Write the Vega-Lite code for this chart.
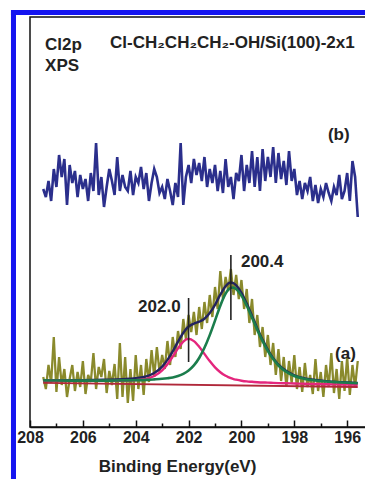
{
  "$schema": "https://vega.github.io/schema/vega-lite/v6.json",
  "width": 337,
  "height": 410,
  "autosize": {"type": "none"},
  "padding": {"left": 30, "top": 17, "right": 0, "bottom": 52},
  "background": "white",
  "config": {
    "font": "Liberation Sans",
    "view": {"stroke": "#111111", "strokeWidth": 1.5}
  },
  "datasets": {
    "frame": [
      {"x1": 208.72, "x2": 208.53, "y1": 417, "y2": -60},
      {"x1": 208.72, "x2": 194.0, "y1": 417, "y2": 412}
    ],
    "bg": [
      {"E": 207.5, "v": 44.05},
      {"E": 195.6, "v": 40.0}
    ],
    "spec": [
      {"E":207.5,"a":50,"b":238},{"E":207.4,"a":38,"b":230},{"E":207.3,"a":62,"b":246},{"E":207.2,"a":44,"b":226},{"E":207.1,"a":90,"b":258},
      {"E":207.0,"a":35,"b":240},{"E":206.9,"a":70,"b":272},{"E":206.8,"a":42,"b":250},{"E":206.7,"a":58,"b":268},{"E":206.6,"a":30,"b":222},
      {"E":206.5,"a":48,"b":262},{"E":206.4,"a":62,"b":244},{"E":206.3,"a":36,"b":256},{"E":206.2,"a":55,"b":230},{"E":206.1,"a":40,"b":252},
      {"E":206.0,"a":66,"b":238},{"E":205.9,"a":33,"b":248},{"E":205.8,"a":52,"b":226},{"E":205.7,"a":45,"b":254},{"E":205.6,"a":74,"b":236},
      {"E":205.5,"a":38,"b":284},{"E":205.4,"a":60,"b":232},{"E":205.3,"a":50,"b":250},{"E":205.2,"a":68,"b":220},{"E":205.1,"a":34,"b":240},
      {"E":205.0,"a":56,"b":258},{"E":204.9,"a":42,"b":246},{"E":204.8,"a":63,"b":232},{"E":204.7,"a":28,"b":270},{"E":204.6,"a":84,"b":236},
      {"E":204.5,"a":30,"b":252},{"E":204.4,"a":70,"b":240},{"E":204.3,"a":24,"b":236},{"E":204.2,"a":58,"b":256},{"E":204.1,"a":26,"b":232},
      {"E":204.0,"a":72,"b":250},{"E":203.9,"a":38,"b":244},{"E":203.8,"a":62,"b":260},{"E":203.7,"a":32,"b":238},{"E":203.6,"a":68,"b":254},
      {"E":203.5,"a":45,"b":226},{"E":203.4,"a":77,"b":244},{"E":203.3,"a":50,"b":258},{"E":203.2,"a":80,"b":250},{"E":203.1,"a":55,"b":234},
      {"E":203.0,"a":72,"b":240},{"E":202.9,"a":58,"b":228},{"E":202.8,"a":86,"b":248},{"E":202.7,"a":62,"b":236},{"E":202.6,"a":90,"b":222},
      {"E":202.5,"a":70,"b":244},{"E":202.4,"a":96,"b":230},{"E":202.3,"a":78,"b":284},{"E":202.2,"a":108,"b":222},{"E":202.1,"a":88,"b":250},
      {"E":202.0,"a":112,"b":262},{"E":201.9,"a":95,"b":244},{"E":201.8,"a":115,"b":268},{"E":201.7,"a":92,"b":252},{"E":201.6,"a":120,"b":264},
      {"E":201.5,"a":98,"b":246},{"E":201.4,"a":125,"b":270},{"E":201.3,"a":104,"b":240},{"E":201.2,"a":132,"b":258},{"E":201.1,"a":110,"b":244},
      {"E":201.0,"a":140,"b":262},{"E":200.9,"a":118,"b":236},{"E":200.8,"a":156,"b":256},{"E":200.7,"a":128,"b":234},{"E":200.6,"a":150,"b":268},
      {"E":200.5,"a":136,"b":240},{"E":200.4,"a":158,"b":250},{"E":200.3,"a":132,"b":228},{"E":200.2,"a":152,"b":254},{"E":200.1,"a":128,"b":246},
      {"E":200.0,"a":147,"b":272},{"E":199.9,"a":118,"b":236},{"E":199.8,"a":138,"b":262},{"E":199.7,"a":104,"b":244},{"E":199.6,"a":128,"b":276},
      {"E":199.5,"a":92,"b":240},{"E":199.4,"a":112,"b":270},{"E":199.3,"a":80,"b":236},{"E":199.2,"a":100,"b":278},{"E":199.1,"a":70,"b":246},
      {"E":199.0,"a":92,"b":270},{"E":198.9,"a":62,"b":250},{"E":198.8,"a":84,"b":280},{"E":198.7,"a":52,"b":244},{"E":198.6,"a":78,"b":274},
      {"E":198.5,"a":46,"b":248},{"E":198.4,"a":70,"b":266},{"E":198.3,"a":40,"b":242},{"E":198.2,"a":66,"b":276},{"E":198.1,"a":44,"b":246},
      {"E":198.0,"a":72,"b":258},{"E":197.9,"a":38,"b":232},{"E":197.8,"a":60,"b":246},{"E":197.7,"a":35,"b":228},{"E":197.6,"a":64,"b":244},
      {"E":197.5,"a":40,"b":236},{"E":197.4,"a":52,"b":250},{"E":197.3,"a":33,"b":226},{"E":197.2,"a":68,"b":242},{"E":197.1,"a":36,"b":224},
      {"E":197.0,"a":55,"b":238},{"E":196.9,"a":30,"b":230},{"E":196.8,"a":62,"b":244},{"E":196.7,"a":40,"b":234},{"E":196.6,"a":74,"b":226},
      {"E":196.5,"a":34,"b":240},{"E":196.4,"a":58,"b":232},{"E":196.3,"a":28,"b":252},{"E":196.2,"a":66,"b":228},{"E":196.1,"a":36,"b":236},
      {"E":196.0,"a":70,"b":254},{"E":195.9,"a":32,"b":226},{"E":195.8,"a":62,"b":266},{"E":195.7,"a":40,"b":250},{"E":195.6,"a":66,"b":210}
    ],
    "fit": [
      {"E":207.5,"env":46.9,"g":46.6,"m":46.3},{"E":207.0,"env":46.8,"g":46.5,"m":46.2},{"E":206.5,"env":46.9,"g":46.4,"m":46.1},
      {"E":206.0,"env":46.9,"g":46.4,"m":46.1},{"E":205.5,"env":47.1,"g":46.4,"m":46.1},{"E":205.0,"env":47.4,"g":46.4,"m":46.1},
      {"E":204.5,"env":47.9,"g":46.6,"m":46.3},{"E":204.0,"env":48.8,"g":46.8,"m":46.9},{"E":203.6,"env":50.6,"g":47.1,"m":48.2},
      {"E":203.3,"env":54.0,"g":47.6,"m":51.0},{"E":203.0,"env":60.4,"g":48.2,"m":56.7},{"E":202.8,"env":67.1,"g":48.8,"m":62.8},
      {"E":202.6,"env":75.6,"g":49.6,"m":70.4},{"E":202.4,"env":85.3,"g":51.0,"m":78.6},{"E":202.2,"env":94.3,"g":53.1,"m":85.4},
      {"E":202.0,"env":100.5,"g":56.5,"m":88.2},{"E":201.8,"env":103.4,"g":61.6,"m":85.9},{"E":201.6,"env":105.3,"g":69.0,"m":80.3},
      {"E":201.4,"env":108.3,"g":79.2,"m":73.1},{"E":201.2,"env":113.9,"g":91.9,"m":65.9},{"E":201.0,"env":122.2,"g":106.4,"m":59.6},
      {"E":200.8,"env":132.3,"g":121.3,"m":54.8},{"E":200.6,"env":140.8,"g":133.3,"m":51.2},{"E":200.5,"env":143.5,"g":137.3,"m":49.9},
      {"E":200.4,"env":144.5,"g":139.3,"m":48.8},{"E":200.3,"env":143.7,"g":139.4,"m":47.9},{"E":200.2,"env":141.7,"g":138.0,"m":47.3},
      {"E":200.0,"env":134.2,"g":131.4,"m":46.3},{"E":199.8,"env":123.4,"g":121.2,"m":45.6},{"E":199.6,"env":111.1,"g":109.3,"m":45.2},
      {"E":199.4,"env":98.6,"g":97.1,"m":44.8},{"E":199.2,"env":87.1,"g":85.8,"m":44.5},{"E":199.0,"env":77.2,"g":76.0,"m":44.4},
      {"E":198.8,"env":68.9,"g":67.9,"m":44.1},{"E":198.6,"env":62.4,"g":61.5,"m":43.9},{"E":198.3,"env":55.9,"g":55.1,"m":43.7},
      {"E":198.0,"env":51.6,"g":51.0,"m":43.5},{"E":197.6,"env":48.6,"g":48.1,"m":43.2},{"E":197.2,"env":47.0,"g":46.5,"m":43.0},
      {"E":196.8,"env":45.9,"g":45.5,"m":42.8},{"E":196.4,"env":45.1,"g":44.8,"m":42.6},{"E":196.0,"env":44.6,"g":44.2,"m":42.5},
      {"E":195.6,"env":44.0,"g":43.8,"m":42.3}
    ],
    "peaks": [
      {"E": 202.0, "v1": 65, "v2": 129},
      {"E": 200.4, "v1": 107, "v2": 172}
    ],
    "labelsL": [
      {"E": 207.43, "v": 382, "t": "Cl2p"},
      {"E": 207.43, "v": 361, "t": "XPS"},
      {"E": 204.97, "v": 384, "t": "Cl-CH₂CH₂CH₂-OH/Si(100)-2x1"},
      {"E": 196.73, "v": 292, "t": "(b)"},
      {"E": 196.46, "v": 73, "t": "(a)"},
      {"E": 200.02, "v": 165, "t": "200.4"}
    ],
    "labelsR": [
      {"E": 202.3, "v": 120, "t": "202.0"}
    ]
  },
  "resolve": {"axis": {"x": "independent"}},
  "layer": [
    {
      "data": {"name": "frame"},
      "mark": {"type": "rect", "color": "#1414f0", "clip": false},
      "encoding": {
        "x": {"field": "x1", "type": "quantitative", "scale": {"domain": [208, 195.25], "nice": false, "zero": false}, "axis": null},
        "x2": {"field": "x2"},
        "y": {"field": "y1", "type": "quantitative", "scale": {"domain": [0, 410], "nice": false, "zero": false}, "axis": null},
        "y2": {"field": "y2"}
      }
    },
    {
      "data": {"name": "spec"},
      "mark": {"type": "line", "color": "#8a8a2c", "strokeWidth": 2.3},
      "encoding": {
        "x": {
          "field": "E", "type": "quantitative",
          "scale": {"domain": [208, 195.25], "nice": false, "zero": false},
          "axis": {
            "orient": "bottom",
            "values": [196, 198, 200, 202, 204, 206, 208],
            "format": "d",
            "grid": false,
            "domain": true, "domainColor": "#111111", "domainWidth": 1.5,
            "ticks": true, "tickSize": -7, "tickColor": "#111111", "tickWidth": 1.5,
            "labelFontSize": 16, "labelFontWeight": "bold", "labelColor": "#222222", "labelPadding": 9,
            "labelFlush": false, "labelOverlap": false,
            "title": "Binding Energy(eV)",
            "titleFontSize": 17, "titleFontWeight": "bold", "titleColor": "#222222",
            "titleX": 147, "titleY": 31
          }
        },
        "y": {"field": "a", "type": "quantitative", "scale": {"domain": [0, 410], "nice": false, "zero": false}, "axis": null}
      }
    },
    {
      "data": {"name": "spec"},
      "mark": {"type": "line", "color": "#2b2f8c", "strokeWidth": 2.6},
      "encoding": {
        "x": {
          "field": "E", "type": "quantitative",
          "axis": {
            "orient": "bottom",
            "values": [197, 199, 201, 203, 205, 207],
            "grid": false, "domain": false, "labels": false, "title": null,
            "ticks": true, "tickSize": -4, "tickColor": "#111111", "tickWidth": 1.5
          }
        },
        "y": {"field": "b", "type": "quantitative"}
      }
    },
    {
      "data": {"name": "bg"},
      "mark": {"type": "line", "color": "#b0283a", "strokeWidth": 1.8},
      "encoding": {
        "x": {"field": "E", "type": "quantitative", "axis": null},
        "y": {"field": "v", "type": "quantitative"}
      }
    },
    {
      "data": {"name": "fit"},
      "mark": {"type": "line", "color": "#23235e", "strokeWidth": 2.4, "interpolate": "monotone"},
      "encoding": {
        "x": {"field": "E", "type": "quantitative", "axis": null},
        "y": {"field": "env", "type": "quantitative"}
      }
    },
    {
      "data": {"name": "fit"},
      "mark": {"type": "line", "color": "#e4267d", "strokeWidth": 2.4, "interpolate": "monotone"},
      "encoding": {
        "x": {"field": "E", "type": "quantitative", "axis": null},
        "y": {"field": "m", "type": "quantitative"}
      }
    },
    {
      "data": {"name": "fit"},
      "mark": {"type": "line", "color": "#1b7d4c", "strokeWidth": 2.6, "interpolate": "monotone"},
      "encoding": {
        "x": {"field": "E", "type": "quantitative", "axis": null},
        "y": {"field": "g", "type": "quantitative"}
      }
    },
    {
      "data": {"name": "peaks"},
      "mark": {"type": "rule", "color": "#222222", "strokeWidth": 1.6},
      "encoding": {
        "x": {"field": "E", "type": "quantitative", "axis": null},
        "y": {"field": "v1", "type": "quantitative"},
        "y2": {"field": "v2"}
      }
    },
    {
      "data": {"name": "labelsL"},
      "mark": {"type": "text", "align": "left", "baseline": "middle", "fontSize": 17, "fontWeight": "bold", "color": "#222222"},
      "encoding": {
        "x": {"field": "E", "type": "quantitative", "axis": null},
        "y": {"field": "v", "type": "quantitative"},
        "text": {"field": "t"}
      }
    },
    {
      "data": {"name": "labelsR"},
      "mark": {"type": "text", "align": "right", "baseline": "middle", "fontSize": 17, "fontWeight": "bold", "color": "#222222"},
      "encoding": {
        "x": {"field": "E", "type": "quantitative", "axis": null},
        "y": {"field": "v", "type": "quantitative"},
        "text": {"field": "t"}
      }
    }
  ]
}
